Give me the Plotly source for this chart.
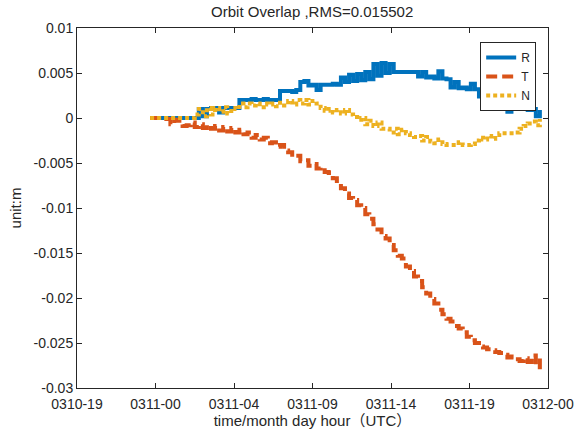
import plotly.graph_objects as go

# time in hours after 0310-19 UTC, sampled every 0.25 h from 4.5 to 28.5
t_start = 4.5
t_step = 0.25

R = [0, 0,
     0, 0, 0, 0,
     0, 0, 0, 0,
     0, 0, 0.0010, 0.0002,
     0.0010, 0.0011, 0.0011, 0.0006,
     0.0011, 0.0011, 0.0011, 0.0011,
     0.0020, 0.0020, 0.0020, 0.0021,
     0.0020, 0.0020, 0.0021, 0.0020,
     0.0020, 0.0020, 0.0030, 0.0030,
     0.0030, 0.0029, 0.0031, 0.0040,
     0.0041, 0.0036, 0.0037, 0.0031,
     0.0037, 0.0037, 0.0037, 0.0038,
     0.0037, 0.0045, 0.0040, 0.0048,
     0.0041, 0.0049, 0.0042, 0.0051,
     0.0043, 0.0060, 0.0047, 0.0061,
     0.0050, 0.0060, 0.0051, 0.0051,
     0.0051, 0.0051, 0.0051, 0.0051,
     0.0046, 0.0051, 0.0045, 0.0046,
     0.0044, 0.0052, 0.0044, 0.0043,
     0.0034, 0.0040, 0.0033, 0.0034,
     0.0032, 0.0038, 0.0032, 0.0024,
     0.0023, 0.0030, 0.0022, 0.0023,
     0.0015, 0.0015, 0.0007, 0.0015,
     0.0016, 0.0010, 0.0011, 0.0009,
     0.0010, 0.0002, 0.0009]

T = [0, 0,
     0, 0, -0.0001, -0.0007,
     -0.0002, -0.0003, -0.0009, -0.0008,
     -0.0005, -0.0010, -0.0007, -0.0011,
     -0.0008, -0.0012, -0.0009, -0.0014,
     -0.0010, -0.0015, -0.0011, -0.0016,
     -0.0013, -0.0018, -0.0016, -0.0022,
     -0.0019, -0.0024, -0.0022, -0.0028,
     -0.0027, -0.0032, -0.0030, -0.0036,
     -0.0038, -0.0043, -0.0042, -0.0048,
     -0.0047, -0.0053, -0.0051, -0.0056,
     -0.0055, -0.0060, -0.0061, -0.0067,
     -0.0070, -0.0078, -0.0084, -0.0089,
     -0.0091, -0.0097, -0.0100, -0.0107,
     -0.0112, -0.0118, -0.0124, -0.0131,
     -0.0134, -0.0141, -0.0147, -0.0153,
     -0.0156, -0.0165, -0.0170, -0.0176,
     -0.0181, -0.0188, -0.0195, -0.0201,
     -0.0206, -0.0213, -0.0218, -0.0223,
     -0.0226, -0.0231, -0.0234, -0.0238,
     -0.0243, -0.0247, -0.0250, -0.0254,
     -0.0255, -0.0257, -0.0258, -0.0260,
     -0.0261, -0.0263, -0.0266, -0.0265,
     -0.0268, -0.0270, -0.0267, -0.0271,
     -0.0264, -0.0277, -0.0262]

N = [0, 0,
     0, 0, 0, 0,
     0, 0, 0, 0,
     0, 0.0004, 0.0010, 0.0002,
     0.0011, 0.0004, 0.0011, 0.0007,
     0.0012, 0.0005, 0.0011, 0.0010,
     0.0016, 0.0012, 0.0016, 0.0014,
     0.0016, 0.0012, 0.0016, 0.0015,
     0.0016, 0.0013, 0.0017, 0.0014,
     0.0019, 0.0015, 0.0020, 0.0016,
     0.0020, 0.0015, 0.0019, 0.0016,
     0.0011, 0.0008, 0.0010, 0.0006,
     0.0009, 0.0005, 0.0009, 0.0004,
     0.0001, -0.0002, 0.0000, -0.0007,
     -0.0003, -0.0009, -0.0005, -0.0012,
     -0.0012, -0.0016, -0.0012, -0.0018,
     -0.0013, -0.0017, -0.0019, -0.0021,
     -0.0020, -0.0025, -0.0021, -0.0026,
     -0.0028, -0.0024, -0.0029, -0.0030,
     -0.0030, -0.0030, -0.0027, -0.0030,
     -0.0030, -0.0029, -0.0025, -0.0022,
     -0.0024, -0.0020, -0.0023, -0.0019,
     -0.0017, -0.0017, -0.0017, -0.0017,
     -0.0016, -0.0012, -0.0009, -0.0006,
     -0.0004, -0.0008, -0.0001]

x_tick_vals = [0, 29 / 6, 2 * 29 / 6, 3 * 29 / 6, 4 * 29 / 6, 5 * 29 / 6, 29]
x_tick_text = ["0310-19", "0311-00", "0311-04", "0311-09", "0311-14", "0311-19", "0312-00"]
y_tick_vals = [0.01, 0.005, 0, -0.005, -0.01, -0.015, -0.02, -0.025, -0.03]
y_tick_text = ["0.01", "0.005", "0", "-0.005", "-0.01", "-0.015", "-0.02", "-0.025", "-0.03"]

assert len(R) == len(T) == len(N)
hours = [t_start + i * t_step for i in range(len(R))]

fig = go.Figure()
fig.add_trace(go.Scatter(x=hours, y=R, name="R", mode="lines",
                         line=dict(color="#0072BD", width=4, shape="hv")))
fig.add_trace(go.Scatter(x=hours, y=T, name="T", mode="lines",
                         line=dict(color="#D95319", width=4, dash="11px,5px", shape="hv")))
fig.add_trace(go.Scatter(x=hours, y=N, name="N", mode="lines",
                         line=dict(color="#EDB120", width=4, dash="4px,3px", shape="hv")))

axis_common = dict(showline=True, linecolor="#262626", linewidth=1, mirror="ticks",
                   ticks="inside", ticklen=5, tickcolor="#262626", showgrid=False,
                   zeroline=False, automargin=False,
                   tickfont=dict(size=14, color="#262626"))

fig.update_layout(
    width=577, height=431,
    margin=dict(l=77, r=29, t=28, b=43),
    paper_bgcolor="white", plot_bgcolor="white",
    font=dict(family="Liberation Sans, Arial, Noto Sans CJK SC", color="#262626"),
    title=dict(text="Orbit Overlap ,RMS=0.015502", x=0.541, xanchor="center",
               y=0.972, yanchor="middle", font=dict(size=15, color="#262626")),
    xaxis=dict(range=[0, 29], tickvals=x_tick_vals, ticktext=x_tick_text,
               ticklabelstandoff=3,
               title=dict(text="time/month day hour（UTC）", font=dict(size=15), standoff=1),
               **axis_common),
    yaxis=dict(range=[-0.03, 0.01], tickvals=y_tick_vals, ticktext=y_tick_text,
               title=dict(text="unit:m", font=dict(size=15), standoff=8),
               **axis_common),
    legend=dict(x=0.856, y=0.961, xanchor="left", yanchor="top",
                bordercolor="#262626", borderwidth=1, bgcolor="white",
                font=dict(size=12, color="#262626"), tracegroupgap=0,
                itemwidth=30),
    showlegend=True,
)

fig.write_html("out.html")
